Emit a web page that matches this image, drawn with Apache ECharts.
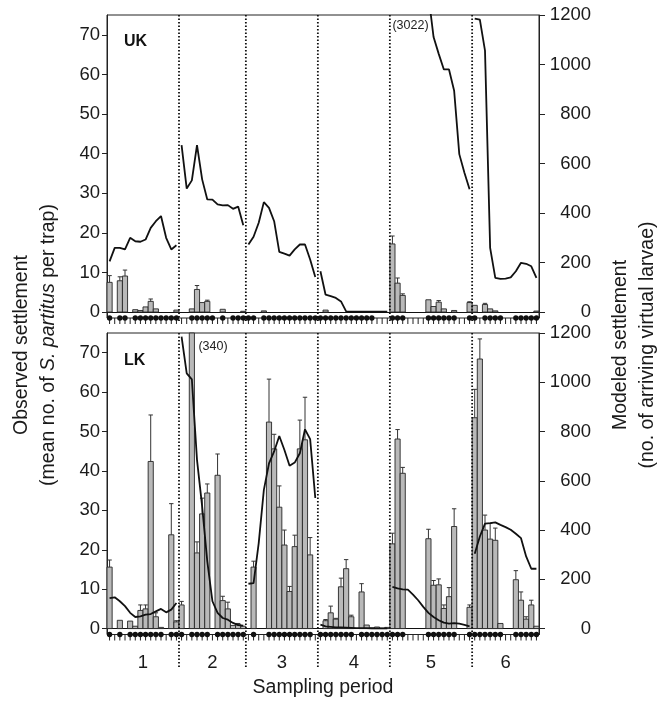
<!DOCTYPE html>
<html>
<head>
<meta charset="utf-8">
<script src="https://cdn.jsdelivr.net/npm/echarts@6/dist/echarts.min.js"></script>
<style>
  html, body { margin: 0; padding: 0; background: #fff; }
  #chart { width: 669px; height: 704px; }
</style>
</head>
<body>
<div id="chart"></div>
<script>
// Daily settlement at two sites over six sampling periods (84 days in all).
// null = night not sampled; 0 = sampled, nothing settled.
const dayCount = 84;
const periodStart = [0, 14, 27, 41, 55, 71, 84];
const periodNames = ['1', '2', '3', '4', '5', '6'];
const leftTicks = [0, 10, 20, 30, 40, 50, 60, 70];
const rightTicks = [0, 200, 400, 600, 800, 1000, 1200];

// Observed settlement, mean per trap
const ukObserved = [
  7.5, null, 7.9, 9.1, null, 0.6, 0.4, 1.3, 2.7, 0.8, 0, 0, 0, 0.5,
  null, null, 0.8, 5.7, 2.4, 2.7, 0, null, 0.7, null, 0, 0, 0.2,
  0, 0, null, 0.3, 0, 0, 0, 0, 0, 0, 0, 0, 0, 0,
  0, 0.5, 0, 0, 0, 0, 0, 0, 0, 0, 0, null, null, null,
  17.2, 7.3, 4.2, null, null, null, null, 3.1, 1.4, 2.5, 0.8, 0, 0.4, null, null, 2.4,
  1.7, null, 1.9, 0.8, 0.3, 0, null, null, 0, 0, 0, 0, 0.25
];
// Top of the error bar (mean + SE), where one is drawn
const ukUpperError = [
  9.2, null, 8.9, 10.6, null, null, null, null, 3.3, null, null, null, null, null,
  null, null, null, 6.7, null, 3.0, null, null, null, null, null, null, null,
  null, null, null, null, null, null, null, null, null, null, null, null, null, null,
  null, null, null, null, null, null, null, null, null, null, null, null, null, null,
  19.2, 8.6, 4.6, null, null, null, null, null, null, 2.9, null, null, null, null, null, 2.6,
  null, null, 2.2, null, null, null, null, null, null, null, null, null, null
];
// Modeled settlement, arriving virtual larvae
const ukModeled = [
  205, 259, 259, 253, 300, 286, 284, 293, 340, 367, 388, 300, 253, 270,
  674, 499, 532, 674, 536, 455, 454, 435, 431, 432, 417, 426, 351,
  273, 304, 361, 444, 421, 367, 243, 236, 228, 253, 273, 273, 212, 142,
  165, 70, 64, 57, 43, 3, 2, 2, 2, 2, 2, 2, 2, 2,
  3022, null, null, null, null, null, null, 1280, 1111, 1043, 980, 980, 894, 638, 563, 496,
  1185, 1181, 1056, 259, 138, 134, 135, 140, 165, 199, 195, 185, 138
];

const lkObserved = [
  15.6, null, 2.1, null, 1.9, 0.6, 4.6, 5.0, 42.4, 3.0, 0.3, null, 23.8, 1.7,
  6.0, null, 340, 19.2, 29.1, 34.4, null, 38.9, 7.1, 5.0, 0.8, 1.0, 0.6,
  null, 15.6, null, null, 52.4, 45.6, 30.8, 21.2, 9.4, 20.8, 45.6, 47.9, 18.7, null,
  0, 2.0, 4.0, 2.4, 10.6, 15.2, 3.0, null, 9.3, 0.9, 0.2, 0.4, 0.1, 0.3,
  21.5, 48.1, 39.4, null, null, null, null, 22.8, 11.0, 11.1, 5.1, 8.1, 25.9, null, null, 5.4,
  53.5, 68.4, 25.0, 22.7, 22.4, 1.3, null, null, 12.4, 7.2, 2.4, 6.0, 0.6
];
const lkUpperError = [
  17.4, null, null, null, null, null, 6.0, 6.0, 54.2, 4.0, null, null, 31.7, 2.0,
  6.9, null, null, 22.0, 33.1, 36.7, null, 44.3, 8.2, 6.7, null, 1.3, null,
  null, 17.1, null, null, 63.3, 49.3, 36.2, 25.0, 10.7, 23.7, 52.9, 58.7, 23.1, null,
  null, 2.3, 5.7, 2.6, 12.8, 17.5, 3.4, null, 11.4, null, null, null, null, null,
  24.2, 50.5, 40.9, null, null, null, null, 25.2, 12.2, 12.6, 6.0, 10.4, 30.4, null, null, 6.0,
  60.7, 73.5, 28.8, 26.7, 25.5, null, null, null, 14.7, 9.3, 3.0, 7.2, null
];
const lkModeled = [
  124, 127, 111, 91, 64, 47, 50, 57, 59, 70, 80, 66, 77, 104,
  1185, 1036, 1012, 685, 496, 273, 111, 64, 43, 36, 23, 14, 12,
  182, 185, 347, 563, 671, 719, 782, 725, 661, 674, 712, 809, 769, 530,
  16, 9, 7, 5, 5, 4, 3, 2, 2, 2, 1, 1, 1, 1,
  169, 163, 159, 158, 138, 115, 88, 64, 47, 34, 24, 20, 22, 20, 15, 9,
  304, 374, 426, 428, 431, 421, 412, 401, 385, 367, 293, 243, 243
];

const FONT = '"Liberation Sans", Arial, Helvetica, sans-serif';
const INK = '#1a1a1a';
const OBS_MIN = -1.5, OBS_MAX = 75;
const MOD_MIN = -24, MOD_MAX = 1200;

const panels = [
  { tag: 'UK', obs: ukObserved, err: ukUpperError, model: ukModeled, top: 15, height: 303, dottedExtra: 4, tagY: 42 },
  { tag: 'LK', obs: lkObserved, err: lkUpperError, model: lkModeled, top: 333, height: 301.5, dottedExtra: 34, tagY: 361 }
];

const plain = v => String(v);
const grids = [], xAxes = [], yAxes = [], series = [];

panels.forEach((pn, gi) => {
  grids.push({ left: 107, right: 130, top: pn.top, height: pn.height, show: true,
    borderColor: '#222', borderWidth: 1, backgroundColor: 'transparent', containLabel: false });

  xAxes.push({ type: 'value', gridIndex: gi, min: 0, max: dayCount,
    axisLine: { show: true, onZero: true, lineStyle: { color: '#111', width: 1.2 } },
    axisTick: { show: false }, axisLabel: { show: false }, splitLine: { show: false } });

  yAxes.push({ type: 'value', gridIndex: gi, position: 'left', min: OBS_MIN, max: OBS_MAX,
    axisLine: { show: true, lineStyle: { color: '#222', width: 1 } },
    axisTick: { show: true, inside: false, length: 5, customValues: leftTicks, lineStyle: { color: '#222' } },
    axisLabel: { show: true, customValues: leftTicks, formatter: plain, margin: 7, color: INK, fontSize: 18.5, fontFamily: FONT },
    splitLine: { show: false } });

  yAxes.push({ type: 'value', gridIndex: gi, position: 'right', min: MOD_MIN, max: MOD_MAX,
    axisLine: { show: true, lineStyle: { color: '#222', width: 1 } },
    axisTick: { show: true, inside: false, length: 6, customValues: rightTicks, lineStyle: { color: '#222' } },
    axisLabel: { show: true, customValues: rightTicks, formatter: plain, margin: 52, align: 'right', color: INK, fontSize: 18.5, fontFamily: FONT },
    splitLine: { show: false } });

  // Observed bars with upper error whiskers
  const barData = [];
  pn.obs.forEach((v, d) => {
    if (v !== null) barData.push([d, v, pn.err[d] === null ? '-' : pn.err[d]]);
  });
  series.push({
    type: 'custom', xAxisIndex: gi, yAxisIndex: gi * 2, data: barData, z: 2, silent: true,
    encode: { x: 0, y: 1 },
    renderItem: (params, api) => {
      const d = api.value(0), v = api.value(1), e = api.value(2);
      const children = [];
      if (v > 0) {
        const base = api.coord([d, 0]);
        const top = api.coord([d + 1, Math.min(v, OBS_MAX)]);
        children.push({ type: 'rect',
          shape: { x: base[0], y: top[1], width: top[0] - base[0], height: base[1] - top[1] },
          style: { fill: '#b9b9b9', stroke: '#262626', lineWidth: 0.9 } });
        if (!isNaN(e) && e > v) {
          const tip = api.coord([d + 0.5, e]);
          children.push({ type: 'line', shape: { x1: tip[0], y1: top[1], x2: tip[0], y2: tip[1] },
            style: { stroke: '#333', lineWidth: 1 } });
          children.push({ type: 'line', shape: { x1: tip[0] - 2.2, y1: tip[1], x2: tip[0] + 2.2, y2: tip[1] },
            style: { stroke: '#333', lineWidth: 1 } });
        }
        if (v > OBS_MAX) {
          children.push({ type: 'text', style: { text: '(' + v + ')', x: top[0] + 4, y: top[1] + 14,
            fill: '#222', fontSize: 12.5, fontFamily: FONT, align: 'left', verticalAlign: 'middle' } });
        }
      }
      return { type: 'group', children };
    }
  });

  // Day ticks and sampled-night dots along the bottom edge
  series.push({
    type: 'custom', xAxisIndex: gi, yAxisIndex: gi * 2, z: 6, silent: true,
    data: pn.obs.map((v, d) => [d, v === null ? 0 : 1]),
    encode: { x: 0 },
    renderItem: (params, api) => {
      const d = api.value(0), sampled = api.value(1);
      const p = api.coord([d + 0.5, OBS_MIN]);
      const children = [{ type: 'line', shape: { x1: p[0], y1: p[1], x2: p[0], y2: p[1] + 6 },
        style: { stroke: '#222', lineWidth: 1 } }];
      if (sampled) children.push({ type: 'circle', shape: { cx: p[0], cy: p[1], r: 2.7 }, style: { fill: '#111' } });
      return { type: 'group', children };
    }
  });

  // Dotted separators between sampling periods
  series.push({
    type: 'custom', xAxisIndex: gi, yAxisIndex: gi * 2, z: 3, silent: true,
    data: periodStart.slice(1, -1).map(b => [b]),
    encode: { x: 0 },
    renderItem: (params, api) => {
      const b = api.value(0);
      const top = api.coord([b, OBS_MAX]);
      const bot = api.coord([b, OBS_MIN]);
      return { type: 'line', shape: { x1: top[0], y1: top[1], x2: top[0], y2: bot[1] + pn.dottedExtra },
        style: { stroke: '#111', lineWidth: 1.8, lineDash: [1.6, 1.9] } };
    }
  });

  // Modeled settlement: one line per sampling period
  const peaks = [];
  for (let p = 0; p < periodStart.length - 1; p++) {
    const pts = [];
    let peakDay = -1;
    for (let d = periodStart[p]; d < periodStart[p + 1]; d++) {
      pts.push([d + 0.5, pn.model[d]]);
      if (pn.model[d] !== null && (peakDay < 0 || pn.model[d] > pn.model[peakDay])) peakDay = d;
    }
    if (peakDay >= 0 && pn.model[peakDay] > MOD_MAX) peaks.push([peakDay, pn.model[peakDay]]);
    series.push({ type: 'line', xAxisIndex: gi, yAxisIndex: gi * 2 + 1, data: pts, z: 4,
      symbol: 'none', showSymbol: false, clip: true, connectNulls: false, silent: true,
      lineStyle: { color: '#111', width: 1.8 } });
  }

  // Period peaks running off the top of the modeled axis
  series.push({
    type: 'custom', xAxisIndex: gi, yAxisIndex: gi * 2 + 1, z: 7, silent: true, data: peaks,
    encode: { x: 0 },
    renderItem: (params, api) => {
      const d = api.value(0), v = api.value(1);
      const p = api.coord([d + 0.5, MOD_MAX]);
      return { type: 'text', style: { text: '(' + v + ')', x: p[0], y: p[1] + 11,
        fill: '#222', fontSize: 12.5, fontFamily: FONT, align: 'left', verticalAlign: 'middle' } };
    }
  });

  // Site tag
  series.push({
    type: 'custom', xAxisIndex: gi, yAxisIndex: gi * 2, z: 7, silent: true, data: [[0]],
    encode: { x: 0 },
    renderItem: (params, api) => {
      const p = api.coord([0, OBS_MAX]);
      return { type: 'text', style: { text: pn.tag, x: p[0] + 17, y: pn.tagY,
        fill: '#111', fontSize: 16, fontWeight: 'bold', fontFamily: FONT, align: 'left', verticalAlign: 'middle' } };
    }
  });
});

// Period numbers under the lower panel
series.push({
  type: 'custom', xAxisIndex: 1, yAxisIndex: 2, z: 7, silent: true,
  data: periodNames.map((n, i) => [(periodStart[i] + periodStart[i + 1]) / 2]),
  encode: { x: 0 },
  renderItem: (params, api) => {
    const p = api.coord([api.value(0), OBS_MIN]);
    return { type: 'text', style: { text: periodNames[params.dataIndex], x: p[0], y: p[1] + 28,
      fill: INK, fontSize: 18.5, fontFamily: FONT, align: 'center', verticalAlign: 'middle' } };
  }
});

const chart = echarts.init(document.getElementById('chart'), null, { renderer: 'canvas' });
chart.setOption({
  animation: false,
  backgroundColor: '#ffffff',
  grid: grids,
  xAxis: xAxes,
  yAxis: yAxes,
  series: series,
  graphic: [
    { type: 'text', x: 22, y: 345, rotation: Math.PI / 2, silent: true,
      style: { text: 'Observed settlement', fill: INK, fontSize: 19.5, fontFamily: FONT, align: 'center', verticalAlign: 'middle' } },
    { type: 'text', x: 49, y: 345, rotation: Math.PI / 2, silent: true,
      style: { text: '{n|(mean no. of }{i|S. partitus}{n| per trap)}', align: 'center', verticalAlign: 'middle',
        rich: { n: { fill: INK, fontSize: 19.5, fontFamily: FONT }, i: { fill: INK, fontSize: 19.5, fontFamily: FONT, fontStyle: 'italic' } } } },
    { type: 'text', x: 621, y: 345, rotation: Math.PI / 2, silent: true,
      style: { text: 'Modeled settlement', fill: INK, fontSize: 19.5, fontFamily: FONT, align: 'center', verticalAlign: 'middle' } },
    { type: 'text', x: 648, y: 345, rotation: Math.PI / 2, silent: true,
      style: { text: '(no. of arriving virtual larvae)', fill: INK, fontSize: 19.5, fontFamily: FONT, align: 'center', verticalAlign: 'middle' } },
    { type: 'text', x: 323, y: 688, silent: true,
      style: { text: 'Sampling period', fill: INK, fontSize: 19.5, fontFamily: FONT, align: 'center', verticalAlign: 'middle' } }
  ]
});
</script>
</body>
</html>
